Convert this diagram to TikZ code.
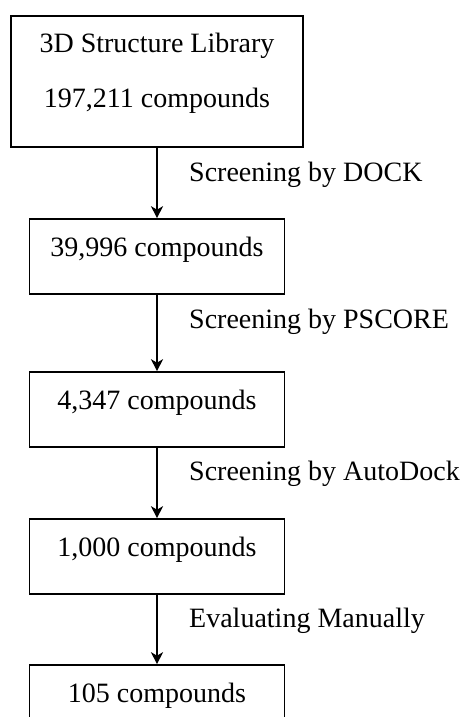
\documentclass[tikz,border=0pt]{standalone}
\usepackage{fontspec}
\setmainfont{Liberation Serif}
\usetikzlibrary{arrows.meta}

\begin{document}
\begin{tikzpicture}[x=1pt,y=1pt,
	StageStyle/.style = {draw, line width=1.6pt, inner sep=0pt, font=\fontsize{28}{55}\selectfont},
	CountStyle/.style = {StageStyle, minimum width=255pt, text height=37pt, text depth=38pt},
	StepStyle/.style  = {anchor=base west, inner sep=0pt, font=\fontsize{28}{34}\selectfont},
	EdgeStyle/.style  = {-{Stealth[length=12pt,width=12pt,inset=3.5pt]}, line width=1.6pt}]
	\clip (0,0) rectangle (463,-717);
		\node[StageStyle, minimum width=292pt, align=center, text height=92pt, text depth=39pt] (L) at (157,-15) [anchor=north] {3D Structure Library\\197,211 compounds};
		\node[CountStyle] (C1) at (157,-256.5) {39,996 compounds};
		\node[CountStyle] (C2) at (157,-409.5) {4,347 compounds};
		\node[CountStyle] (C3) at (157,-556.5) {1,000 compounds};
		\node[CountStyle] (C4) at (157,-702.5) {105 compounds};
	%	steps between the stages
		\draw[EdgeStyle] (L) -- (C1);
		\draw[EdgeStyle] (C1) -- (C2);
		\draw[EdgeStyle] (C2) -- (C3);
		\draw[EdgeStyle] (C3) -- (C4);
		\node[StepStyle] (S1) at (189,-181) {Screening by DOCK};
		\node[StepStyle] (S2) at (189,-328) {Screening by PSCORE};
		\node[StepStyle] (S3) at (189,-480) {Screening by AutoDock};
		\node[StepStyle] (S4) at (189,-627) {Evaluating Manually};
	\end{tikzpicture}
\end{document}
